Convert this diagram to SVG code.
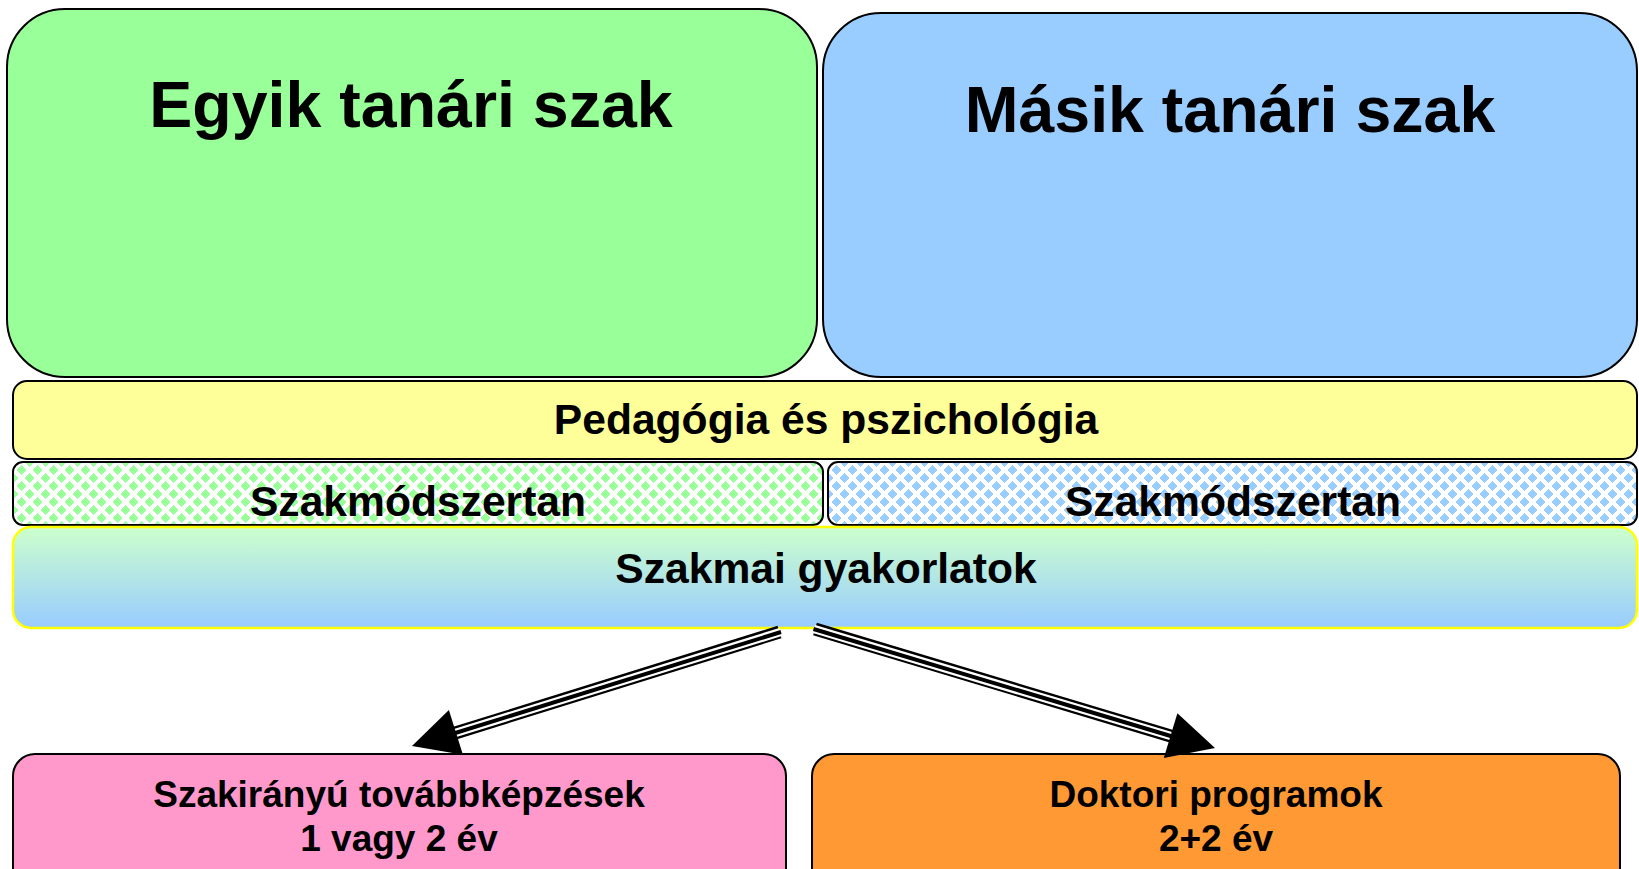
<svg xmlns="http://www.w3.org/2000/svg" width="1639" height="869" viewBox="0 0 1639 869">
  <defs>
    <pattern id="pGreen" x="13" y="462" width="16" height="16" patternUnits="userSpaceOnUse">
      <rect width="16" height="16" fill="#ffffff"/>
      <g fill="#99ff99" shape-rendering="crispEdges">
        <polygon points="8,3 13,8 8,13 3,8"/>
        <polygon points="0,-5 5,0 0,5 -5,0"/>
        <polygon points="16,-5 21,0 16,5 11,0"/>
        <polygon points="0,11 5,16 0,21 -5,16"/>
        <polygon points="16,11 21,16 16,21 11,16"/>
      </g>
    </pattern>
    <pattern id="pBlue" x="828" y="462" width="16" height="16" patternUnits="userSpaceOnUse">
      <rect width="16" height="16" fill="#ffffff"/>
      <g fill="#99ccff" shape-rendering="crispEdges">
        <polygon points="8,3 13,8 8,13 3,8"/>
        <polygon points="0,-5 5,0 0,5 -5,0"/>
        <polygon points="16,-5 21,0 16,5 11,0"/>
        <polygon points="0,11 5,16 0,21 -5,16"/>
        <polygon points="16,11 21,16 16,21 11,16"/>
      </g>
    </pattern>
    <linearGradient id="gPract" x1="0" y1="0" x2="0" y2="1">
      <stop offset="0" stop-color="#ccffcc"/>
      <stop offset="1" stop-color="#99ccff"/>
    </linearGradient>
  </defs>
  <style>
    .box { stroke: #000000; stroke-width: 2; }
    .t { font-family: "Liberation Sans", Arial, sans-serif; font-weight: bold; fill: #000000; text-anchor: middle; }
    .big { font-size: 64.5px; }
    .mid { font-size: 42.6px; }
    .sm { font-size: 37px; }
    .outer { stroke: #000000; stroke-width: 13; fill: none; }
    .gap { stroke: #ffffff; stroke-width: 8.5; fill: none; }
    .core { stroke: #000000; stroke-width: 4; fill: none; }
  </style>
  <rect width="1639" height="869" fill="#ffffff"/>

  <g id="egyik">
    <rect class="box" x="7" y="9" width="810" height="368" rx="58" ry="58" fill="#99ff99"/>
    <text class="t big" x="411" y="127">Egyik tanári szak</text>
  </g>
  <g id="masik">
    <rect class="box" x="823" y="13" width="814" height="364" rx="58" ry="58" fill="#99ccff"/>
    <text class="t big" x="1230" y="132">Másik tanári szak</text>
  </g>
  <g id="pedagogia">
    <rect class="box" x="13" y="381" width="1624" height="78" rx="14" ry="14" fill="#ffff99"/>
    <text class="t mid" x="826" y="434">Pedagógia és pszichológia</text>
  </g>
  <g id="szakmodszertan1">
    <rect class="box" x="13" y="462" width="810" height="63" rx="10" ry="10" fill="url(#pGreen)"/>
    <text class="t mid" x="418" y="516">Szakmódszertan</text>
  </g>
  <g id="szakmodszertan2">
    <rect class="box" x="828" y="462" width="809" height="63" rx="10" ry="10" fill="url(#pBlue)"/>
    <text class="t mid" x="1233" y="516">Szakmódszertan</text>
  </g>
  <g id="gyakorlatok">
    <rect x="13" y="527" width="1624" height="101" rx="18" ry="18" fill="url(#gPract)" stroke="#ffff00" stroke-width="2.5"/>
    <text class="t mid" x="826" y="583">Szakmai gyakorlatok</text>
  </g>
  <g id="tovabbkepzesek">
    <rect class="box" x="13" y="754" width="773" height="140" rx="22" ry="22" fill="#ff99cc"/>
    <text class="t sm" x="399" y="807">Szakirányú továbbképzések</text>
    <text class="t sm" x="399" y="851">1 vagy 2 év</text>
  </g>
  <g id="doktori">
    <rect class="box" x="812" y="754" width="808" height="140" rx="22" ry="22" fill="#ff9933"/>
    <text class="t sm" x="1216" y="807">Doktori programok</text>
    <text class="t sm" x="1216" y="851">2+2 év</text>
  </g>

  <g id="connectors">
    <path class="outer" d="M779.5,632 L452,734"/>
    <path class="gap" d="M780.5,632 L452,734"/>
    <path class="core" d="M781,632 L452,734"/>
    <polygon points="412,746 448.9,709.9 462.9,754.7" fill="#000000"/>
    <path class="outer" d="M815,629 L1174,737"/>
    <path class="gap" d="M814,629 L1174,737"/>
    <path class="core" d="M813.5,629 L1174,737"/>
    <polygon points="1215,748 1177.4,713.2 1163.8,758" fill="#000000"/>
  </g>
</svg>
